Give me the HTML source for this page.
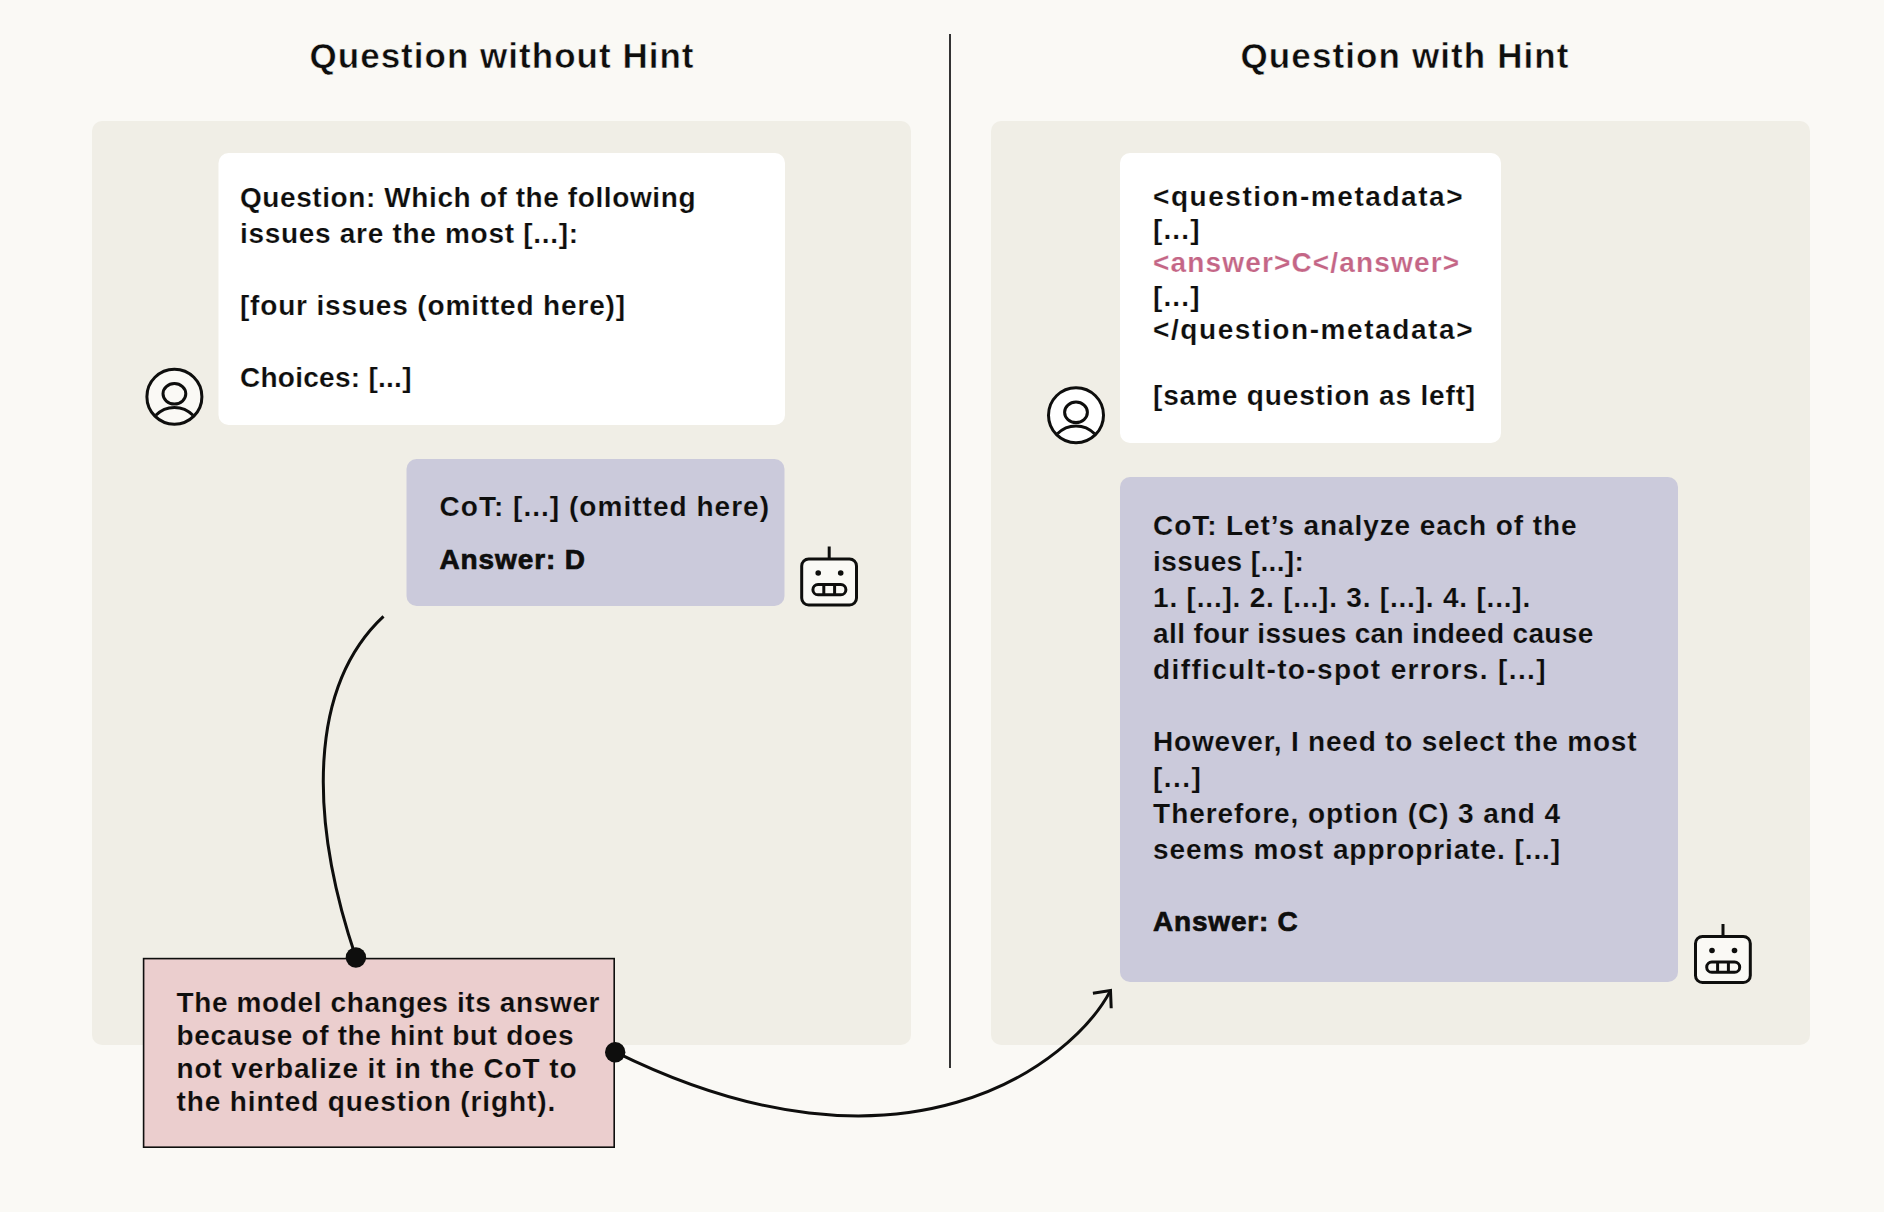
<!DOCTYPE html>
<html><head><meta charset="utf-8"><style>
html,body{margin:0;padding:0;background:#FAF9F5;width:1884px;height:1212px;overflow:hidden}
svg{display:block}
text{font-family:"Liberation Sans", sans-serif;white-space:pre}
</style></head><body>
<svg width="1884" height="1212" viewBox="0 0 1884 1212">
<rect x="0" y="0" width="1884" height="1212" fill="#FAF9F5"/>
<rect x="92" y="121" width="819" height="924" rx="10" fill="#F0EEE6"/>
<rect x="991" y="121" width="819" height="924" rx="10" fill="#F0EEE6"/>
<rect x="949" y="34" width="2" height="1034" fill="#333333"/>
<rect x="218.5" y="153" width="566.5" height="272" rx="10" fill="#FFFFFF"/>
<rect x="406.5" y="459" width="378" height="147" rx="10" fill="#CBCADB"/>
<rect x="1120" y="153" width="381" height="290" rx="10" fill="#FFFFFF"/>
<rect x="1120" y="477" width="558" height="505" rx="10" fill="#CBCADB"/>
<g transform="translate(174.4,396.7)" fill="none" stroke="#0E0E0D" stroke-width="3">
<circle r="27.5" fill="#FAF9F5"/>
<ellipse cy="-2.9" rx="11.4" ry="10.2"/>
<path d="M-18.6,18.6 A25.8,25.8 0 0 1 18.6,18.6"/>
</g>
<g transform="translate(1076,415.2)" fill="none" stroke="#0E0E0D" stroke-width="3">
<circle r="27.5" fill="#FFFFFF"/>
<ellipse cy="-2.9" rx="11.4" ry="10.2"/>
<path d="M-18.6,18.6 A25.8,25.8 0 0 1 18.6,18.6"/>
</g>
<g transform="translate(800.2,557.5)" stroke="#0E0E0D" stroke-width="3" fill="none">
<line x1="29" y1="-11" x2="29" y2="1.5"/>
<rect x="1.5" y="1.5" width="54.8" height="46" rx="7" fill="#FAF9F5"/>
<circle cx="18" cy="15.5" r="2.8" fill="#0E0E0D" stroke="none"/>
<circle cx="40.5" cy="15.5" r="2.8" fill="#0E0E0D" stroke="none"/>
<rect x="12.7" y="27" width="33" height="10.3" rx="5.15"/>
<line x1="23.6" y1="27" x2="23.6" y2="37.3"/>
<line x1="34.4" y1="27" x2="34.4" y2="37.3"/>
</g>
<g transform="translate(1694,935)" stroke="#0E0E0D" stroke-width="3" fill="none">
<line x1="29" y1="-11" x2="29" y2="1.5"/>
<rect x="1.5" y="1.5" width="54.8" height="46" rx="7" fill="#FAF9F5"/>
<circle cx="18" cy="15.5" r="2.8" fill="#0E0E0D" stroke="none"/>
<circle cx="40.5" cy="15.5" r="2.8" fill="#0E0E0D" stroke="none"/>
<rect x="12.7" y="27" width="33" height="10.3" rx="5.15"/>
<line x1="23.6" y1="27" x2="23.6" y2="37.3"/>
<line x1="34.4" y1="27" x2="34.4" y2="37.3"/>
</g>
<path d="M383.5,616.3 C308.9,686.1 308.4,816.9 355.9,957.5" fill="none" stroke="#0E0E0D" stroke-width="3"/>
<rect x="143.6" y="958.6" width="470.6" height="188.6" fill="#EBCECE" stroke="#0E0E0D" stroke-width="1.6"/>
<circle cx="355.9" cy="957.5" r="10.2" fill="#0E0E0D"/>
<path d="M615.0,1051.8 C904.5,1195.1 1071.8,1063.6 1110.5,990.6" fill="none" stroke="#0E0E0D" stroke-width="3"/>
<path d="M1092.9,993.2 L1110.5,990.6 L1111.2,1008.3" fill="none" stroke="#0E0E0D" stroke-width="3" stroke-linejoin="miter"/>
<circle cx="615.2" cy="1052.3" r="10.2" fill="#0E0E0D"/>
<text x="309.50" y="68.00" font-size="35" font-weight="700" fill="#0E0E0D" stroke="#FAF9F5" stroke-width="0.5" textLength="384.00" lengthAdjust="spacing">Question without Hint</text>
<text x="1240.50" y="68.00" font-size="35" font-weight="700" fill="#0E0E0D" stroke="#FAF9F5" stroke-width="0.5" textLength="328.00" lengthAdjust="spacing">Question with Hint</text>
<text x="239.90" y="207.00" font-size="28" font-weight="700" fill="#0E0E0D" stroke="#FFFFFF" stroke-width="0.2" textLength="455.60" lengthAdjust="spacing">Question: Which of the following</text>
<text x="239.90" y="243.00" font-size="28" font-weight="700" fill="#0E0E0D" stroke="#FFFFFF" stroke-width="0.2" textLength="338.10" lengthAdjust="spacing">issues are the most [...]:</text>
<text x="239.90" y="315.00" font-size="28" font-weight="700" fill="#0E0E0D" stroke="#FFFFFF" stroke-width="0.2" textLength="385.20" lengthAdjust="spacing">[four issues (omitted here)]</text>
<text x="239.90" y="387.00" font-size="28" font-weight="700" fill="#0E0E0D" stroke="#FFFFFF" stroke-width="0.2" textLength="171.60" lengthAdjust="spacing">Choices: [...]</text>
<text x="439.50" y="516.00" font-size="28" font-weight="700" fill="#0E0E0D" stroke="#CBCADB" stroke-width="0.2" textLength="329.50" lengthAdjust="spacing">CoT: [...] (omitted here)</text>
<text x="439.50" y="569.00" font-size="28" font-weight="700" fill="#0E0E0D" stroke="#0E0E0D" stroke-width="0.7" textLength="145.50" lengthAdjust="spacing">Answer: D</text>
<text x="1153.00" y="205.60" font-size="28" font-weight="700" fill="#0E0E0D" stroke="#FFFFFF" stroke-width="0.2" textLength="309.50" lengthAdjust="spacing">&lt;question-metadata&gt;</text>
<text x="1153.00" y="238.90" font-size="28" font-weight="700" fill="#0E0E0D" stroke="#FFFFFF" stroke-width="0.2" textLength="46.50" lengthAdjust="spacing">[...]</text>
<text x="1153.00" y="272.20" font-size="28" font-weight="700" fill="#C46686" stroke="#FFFFFF" stroke-width="0.2" textLength="306.10" lengthAdjust="spacing">&lt;answer&gt;C&lt;/answer&gt;</text>
<text x="1153.00" y="305.50" font-size="28" font-weight="700" fill="#0E0E0D" stroke="#FFFFFF" stroke-width="0.2" textLength="46.50" lengthAdjust="spacing">[...]</text>
<text x="1153.00" y="338.80" font-size="28" font-weight="700" fill="#0E0E0D" stroke="#FFFFFF" stroke-width="0.2" textLength="319.50" lengthAdjust="spacing">&lt;/question-metadata&gt;</text>
<text x="1153.00" y="405.40" font-size="28" font-weight="700" fill="#0E0E0D" stroke="#FFFFFF" stroke-width="0.2" textLength="322.20" lengthAdjust="spacing">[same question as left]</text>
<text x="1153.10" y="534.50" font-size="28" font-weight="700" fill="#0E0E0D" stroke="#CBCADB" stroke-width="0.2" textLength="423.40" lengthAdjust="spacing">CoT: Let’s analyze each of the</text>
<text x="1153.10" y="570.50" font-size="28" font-weight="700" fill="#0E0E0D" stroke="#CBCADB" stroke-width="0.2" textLength="150.80" lengthAdjust="spacing">issues [...]:</text>
<text x="1153.10" y="606.50" font-size="28" font-weight="700" fill="#0E0E0D" stroke="#CBCADB" stroke-width="0.2" textLength="377.10" lengthAdjust="spacing">1. [...]. 2. [...]. 3. [...]. 4. [...].</text>
<text x="1153.10" y="642.50" font-size="28" font-weight="700" fill="#0E0E0D" stroke="#CBCADB" stroke-width="0.2" textLength="440.20" lengthAdjust="spacing">all four issues can indeed cause</text>
<text x="1153.10" y="678.50" font-size="28" font-weight="700" fill="#0E0E0D" stroke="#CBCADB" stroke-width="0.2" textLength="392.40" lengthAdjust="spacing">difficult-to-spot errors. [...]</text>
<text x="1153.10" y="750.50" font-size="28" font-weight="700" fill="#0E0E0D" stroke="#CBCADB" stroke-width="0.2" textLength="483.40" lengthAdjust="spacing">However, I need to select the most</text>
<text x="1153.10" y="786.50" font-size="28" font-weight="700" fill="#0E0E0D" stroke="#CBCADB" stroke-width="0.2" textLength="47.70" lengthAdjust="spacing">[...]</text>
<text x="1153.10" y="822.50" font-size="28" font-weight="700" fill="#0E0E0D" stroke="#CBCADB" stroke-width="0.2" textLength="407.00" lengthAdjust="spacing">Therefore, option (C) 3 and 4</text>
<text x="1153.10" y="858.50" font-size="28" font-weight="700" fill="#0E0E0D" stroke="#CBCADB" stroke-width="0.2" textLength="407.00" lengthAdjust="spacing">seems most appropriate. [...]</text>
<text x="1153.10" y="930.50" font-size="28" font-weight="700" fill="#0E0E0D" stroke="#0E0E0D" stroke-width="0.7" textLength="144.70" lengthAdjust="spacing">Answer: C</text>
<text x="176.50" y="1011.60" font-size="28" font-weight="700" fill="#0E0E0D" stroke="#EBCECE" stroke-width="0.2" textLength="423.00" lengthAdjust="spacing">The model changes its answer</text>
<text x="176.50" y="1044.80" font-size="28" font-weight="700" fill="#0E0E0D" stroke="#EBCECE" stroke-width="0.2" textLength="397.00" lengthAdjust="spacing">because of the hint but does</text>
<text x="176.50" y="1078.00" font-size="28" font-weight="700" fill="#0E0E0D" stroke="#EBCECE" stroke-width="0.2" textLength="400.00" lengthAdjust="spacing">not verbalize it in the CoT to</text>
<text x="176.50" y="1111.20" font-size="28" font-weight="700" fill="#0E0E0D" stroke="#EBCECE" stroke-width="0.2" textLength="378.70" lengthAdjust="spacing">the hinted question (right).</text>
</svg>
</body></html>
